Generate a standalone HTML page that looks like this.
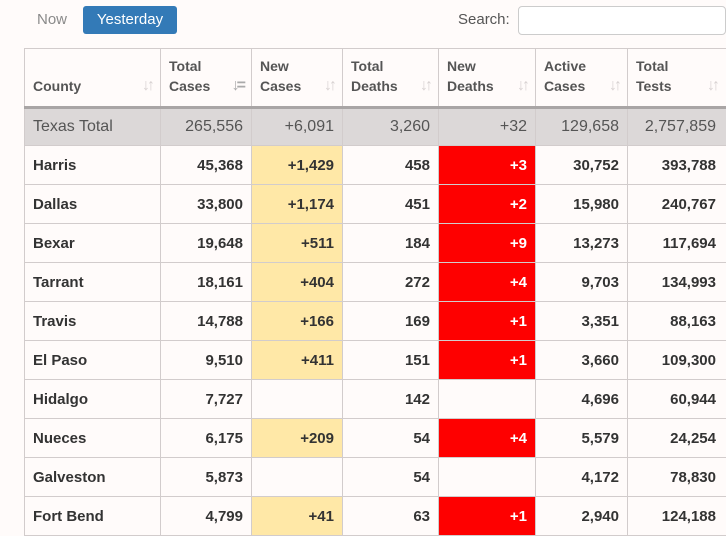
<!DOCTYPE html>
<html><head><meta charset="utf-8"><style>
html,body{margin:0;padding:0;background:#fffbfa;width:726px;height:530px;overflow:hidden;font-family:"Liberation Sans",Arial,sans-serif;}
.now{position:absolute;left:37px;top:11px;font-size:15px;color:#8a8a8a;}
.btn{position:absolute;left:83px;top:6px;width:94px;height:28px;background:#337ab7;border-radius:3px;color:#fff;font-size:15px;line-height:28px;text-align:center;}
.slab{position:absolute;left:458px;top:11px;font-size:15px;color:#555;}
.search{position:absolute;left:518px;top:6px;width:206px;height:27px;border:1px solid #ccc;border-radius:4px;background:#fff;}
table{position:absolute;left:24px;top:48px;border-collapse:collapse;table-layout:fixed;width:720px;}
td,th{border:1px solid #d2cccc;padding:0 8px;font-size:15px;box-sizing:border-box;}
th{height:59px;text-align:left;vertical-align:bottom;padding-bottom:10px;font-weight:bold;color:#555;line-height:20px;position:relative;border-bottom:3px solid #a9a5a5;font-size:14px;}
th span{position:absolute;right:8px;bottom:10px;color:#d8d2d2;font-size:16px;font-weight:bold;letter-spacing:-3px;}
th span.a{color:#aaa;}
td{height:39px;text-align:right;font-weight:bold;color:#333;}
td:first-child{text-align:left;}
tr.tot td{background:#dcd8d8;font-weight:normal;color:#555;font-size:16px;height:38px;}
.y{background:#ffe8a7;}
.r{background:#fe0000;color:#fff;}
td.t{padding-right:28px;}
</style></head><body>
<div class="now">Now</div>
<div class="btn">Yesterday</div>
<div class="slab">Search:</div>
<div class="search"></div>
<table>
<colgroup><col style="width:136px"><col style="width:91px"><col style="width:91px"><col style="width:96px"><col style="width:97px"><col style="width:92px"><col style="width:117px"></colgroup>
<tr><th>County<span>↓↑</span></th><th>Total<br>Cases<span class="a">↓=</span></th><th>New<br>Cases<span>↓↑</span></th><th>Total<br>Deaths<span>↓↑</span></th><th>New<br>Deaths<span>↓↑</span></th><th>Active<br>Cases<span>↓↑</span></th><th>Total<br>Tests<span style="right:27px">↓↑</span></th></tr>
<tr class="tot"><td>Texas Total</td><td>265,556</td><td>+6,091</td><td>3,260</td><td>+32</td><td>129,658</td><td class="t">2,757,859</td></tr>
<tr><td>Harris</td><td>45,368</td><td class="y">+1,429</td><td>458</td><td class="r">+3</td><td>30,752</td><td class="t">393,788</td></tr>
<tr><td>Dallas</td><td>33,800</td><td class="y">+1,174</td><td>451</td><td class="r">+2</td><td>15,980</td><td class="t">240,767</td></tr>
<tr><td>Bexar</td><td>19,648</td><td class="y">+511</td><td>184</td><td class="r">+9</td><td>13,273</td><td class="t">117,694</td></tr>
<tr><td>Tarrant</td><td>18,161</td><td class="y">+404</td><td>272</td><td class="r">+4</td><td>9,703</td><td class="t">134,993</td></tr>
<tr><td>Travis</td><td>14,788</td><td class="y">+166</td><td>169</td><td class="r">+1</td><td>3,351</td><td class="t">88,163</td></tr>
<tr><td>El Paso</td><td>9,510</td><td class="y">+411</td><td>151</td><td class="r">+1</td><td>3,660</td><td class="t">109,300</td></tr>
<tr><td>Hidalgo</td><td>7,727</td><td></td><td>142</td><td></td><td>4,696</td><td class="t">60,944</td></tr>
<tr><td>Nueces</td><td>6,175</td><td class="y">+209</td><td>54</td><td class="r">+4</td><td>5,579</td><td class="t">24,254</td></tr>
<tr><td>Galveston</td><td>5,873</td><td></td><td>54</td><td></td><td>4,172</td><td class="t">78,830</td></tr>
<tr><td>Fort Bend</td><td>4,799</td><td class="y">+41</td><td>63</td><td class="r">+1</td><td>2,940</td><td class="t">124,188</td></tr>
</table>
</body></html>
